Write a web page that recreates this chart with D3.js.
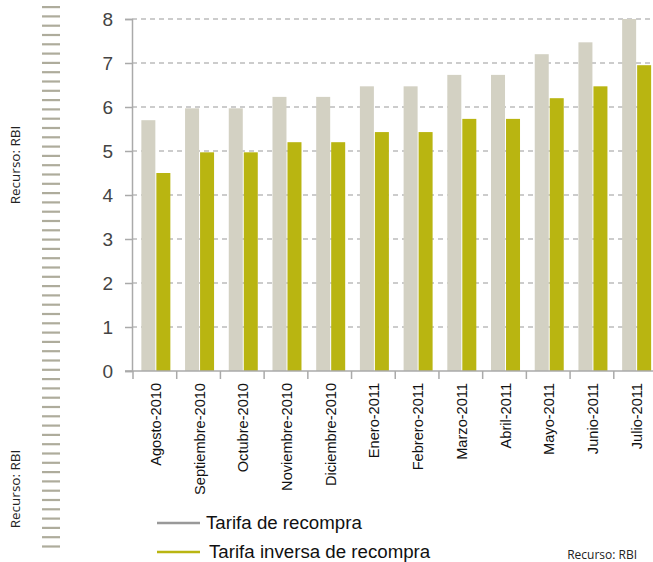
<!DOCTYPE html>
<html>
<head>
<meta charset="utf-8">
<script src="https://cdn.jsdelivr.net/npm/d3@7/dist/d3.min.js"></script>
<style>
  body { margin: 0; background: #fff; }
  svg { display: block; }
</style>
</head>
<body>
<svg id="chart" width="653" height="562"></svg>
<script>
const months = ['Agosto-2010', 'Septiembre-2010', 'Octubre-2010', 'Noviembre-2010', 'Diciembre-2010',
  'Enero-2011', 'Febrero-2011', 'Marzo-2011', 'Abril-2011', 'Mayo-2011', 'Junio-2011', 'Julio-2011']
const tarifaRecompra = [5.7, 5.97, 5.97, 6.23, 6.23, 6.47, 6.47, 6.73, 6.73, 7.2, 7.47, 8.0]
const tarifaInversa = [4.5, 4.97, 4.97, 5.2, 5.2, 5.43, 5.43, 5.73, 5.73, 6.2, 6.47, 6.95]
const yTicks = [0, 1, 2, 3, 4, 5, 6, 7, 8]
const seriesNames = ['Tarifa de recompra', 'Tarifa inversa de recompra']

const grey = '#d3d1c3', olive = '#b9b511'
const svg = d3.select('#chart')
const mainFont = '"Liberation Sans", Arial, sans-serif'
const sourceFont = '"Open Sans", "Noto Sans", sans-serif'

// left stripe decoration
svg.append('g').selectAll('rect')
  .data(d3.range(59))
  .join('rect')
  .attr('x', 42).attr('y', d => 6 + d * 9.3)
  .attr('width', 18).attr('height', 2.2)
  .attr('fill', '#aeac9c')

;[165, 489].forEach(cy => {
  svg.append('text')
    .attr('transform', `translate(20,${cy}) rotate(-90)`)
    .attr('text-anchor', 'middle')
    .attr('font-family', sourceFont)
    .attr('font-size', 13.5)
    .attr('fill', '#222')
    .text('Recurso: RBI')
})

const x = d3.scaleBand().domain(months).range([134, 658.5])
const y = d3.scaleLinear().domain([0, 8]).range([371, 19])

// grid
svg.append('g').selectAll('line')
  .data(yTicks.filter(d => d > 0))
  .join('line')
  .attr('x1', 132).attr('x2', 653)
  .attr('y1', d => y(d)).attr('y2', d => y(d))
  .attr('stroke', '#bcbcbc').attr('stroke-width', 1.3)
  .attr('stroke-dasharray', '5,4')

// bars
const bw = 14
const g = svg.append('g')
g.selectAll('rect.a')
  .data(months)
  .join('rect')
  .attr('x', (d) => x(d) + x.bandwidth() / 2 - bw - 0.5)
  .attr('y', (d, i) => y(tarifaRecompra[i]))
  .attr('width', bw)
  .attr('height', (d, i) => y(0) - y(tarifaRecompra[i]))
  .attr('fill', grey)
g.selectAll('rect.b')
  .data(months)
  .join('rect')
  .attr('x', (d) => x(d) + x.bandwidth() / 2 + 0.5)
  .attr('y', (d, i) => y(tarifaInversa[i]))
  .attr('width', bw)
  .attr('height', (d, i) => y(0) - y(tarifaInversa[i]))
  .attr('fill', olive)

// y axis
const yAxis = svg.append('g')
  .attr('transform', 'translate(132,0)')
  .call(d3.axisLeft(y).tickValues(yTicks).tickSize(7).tickPadding(12))
yAxis.select('.domain').attr('stroke', '#aaa').attr('stroke-width', 1.5)
yAxis.selectAll('.tick line').attr('stroke', '#aaa').attr('stroke-width', 1.5)
yAxis.selectAll('.tick text')
  .attr('font-family', mainFont)
  .attr('font-size', 19).attr('fill', '#444')

// x axis
const xAxis = svg.append('g').attr('transform', 'translate(0,371)')
xAxis.append('line').attr('x1', 125).attr('x2', 653)
  .attr('stroke', '#aaa').attr('stroke-width', 1.5)
xAxis.selectAll('line.tk')
  .data(months)
  .join('line')
  .attr('x1', d => x(d) - 1).attr('x2', d => x(d) - 1)
  .attr('y1', 0).attr('y2', 8)
  .attr('stroke', '#aaa').attr('stroke-width', 1.5)
xAxis.selectAll('text')
  .data(months)
  .join('text')
  .attr('transform', d => `translate(${x(d) + x.bandwidth() / 2 + 5},12) rotate(-90)`)
  .attr('text-anchor', 'end')
  .attr('font-family', mainFont)
  .attr('font-size', 14.6).attr('fill', '#111')
  .text(d => d)

// legend
const legend = svg.append('g')
seriesNames.forEach((name, i) => {
  const ly = 523 + i * 29
  legend.append('line')
    .attr('x1', 157).attr('x2', 200).attr('y1', ly).attr('y2', ly)
    .attr('stroke', i ? olive : '#999').attr('stroke-width', 2.5)
  legend.append('text')
    .attr('x', i ? 209 : 206).attr('y', ly + 6)
    .attr('font-family', mainFont)
    .attr('font-size', 18.7).attr('fill', '#111')
    .text(name)
})

svg.append('text')
  .attr('x', 637).attr('y', 559)
  .attr('text-anchor', 'end')
  .attr('font-family', sourceFont)
  .attr('font-size', 12).attr('fill', '#222')
  .text('Recurso: RBI')
</script>
</body>
</html>
